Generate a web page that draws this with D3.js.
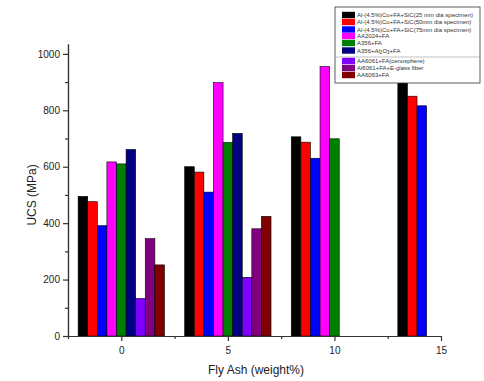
<!DOCTYPE html>
<html>
<head>
<meta charset="utf-8">
<script src="https://cdn.jsdelivr.net/npm/d3@7"></script>
<style>
body { margin: 0; background: #fff; }
svg { font-family: "Liberation Sans", Arial, sans-serif; }
</style>
</head>
<body>
<script>
// fly ash content (weight%) - the group positions
var flyAsh = [0, 5, 10, 15];

var seriesNames = [
  "Al-(4.5%)Cu+FA+SiC(25 mm dia specimen)",
  "Al-(4.5%)Cu+FA+SiC(50mm dia specimen)",
  "Al-(4.5%)Cu+FA+SiC(75mm dia specimen)",
  "AA2024+FA",
  "A356+FA",
  "A356+Al2O3+FA",
  "AA6061+FA(cenosphere)",
  "Al6061+FA+E-glass fiber",
  "AA6063+FA"
];
var seriesColors = ["#000000", "#ff0000", "#0000ff", "#ff00ff", "#008000",
                    "#000080", "#8000ff", "#800080", "#800000"];

// UCS values per series, one per fly ash level (null = no bar)
var ucs25 = [495, 600, 706, 900];
var ucs50 = [476, 581, 687, 850];
var ucs75 = [391, 510, 630, 816];
var aa2024 = [617, 898, 955, null];
var a356 = [610, 686, 699, null];
var a356Al2O3 = [661, 718, null, null];
var aa6061Ceno = [133, 208, null, null];
var al6061Glass = [345, 380, null, null];
var aa6063 = [252, 424, null, null];
var seriesValues = [ucs25, ucs50, ucs75, aa2024, a356, a356Al2O3, aa6061Ceno, al6061Glass, aa6063];

var yTicks = [0, 200, 400, 600, 800, 1000];
var xTicks = [0, 5, 10, 15];

var W = 484, H = 381;
var margin = {left: 68, right: 43, top: 44, bottom: 45};

var svg = d3.select("body").append("svg")
  .attr("width", W).attr("height", H);

var x = d3.scaleLinear().domain([-2.5, 15]).range([margin.left, W - margin.right]);
var y = d3.scaleLinear().domain([0, 1035]).range([H - margin.bottom, margin.top]);

var barW = 0.45; // in x units
var nSeries = seriesNames.length;

// bars
seriesValues.forEach(function(vals, s){
  svg.append("g").selectAll("rect")
    .data(flyAsh.map(function(f, i){ return {f: f, v: vals[i]}; }).filter(function(d){ return d.v != null; }))
    .enter().append("rect")
    .attr("x", function(d){ return x(d.f + (s - nSeries / 2) * barW); })
    .attr("width", x(barW) - x(0))
    .attr("y", function(d){ return y(d.v); })
    .attr("height", function(d){ return y(0) - y(d.v); })
    .attr("fill", seriesColors[s])
    .attr("stroke", "#000")
    .attr("stroke-width", 0.6);
});

// y axis
svg.append("g").attr("transform", "translate(" + margin.left + ",0)")
  .call(d3.axisLeft(y).tickValues(yTicks).tickFormat(d3.format("d")).tickSize(5).tickPadding(3).tickSizeOuter(0));
svg.append("g").attr("transform", "translate(" + margin.left + ",0)")
  .call(d3.axisLeft(y).tickValues(d3.range(100, 1000, 200)).tickSize(3).tickFormat("").tickSizeOuter(0));

// x axis
svg.append("g").attr("transform", "translate(0," + y(0) + ")")
  .call(d3.axisBottom(x).tickValues(xTicks).tickSize(5).tickPadding(6).tickSizeOuter(0));
svg.append("g").attr("transform", "translate(0," + y(0) + ")")
  .call(d3.axisBottom(x).tickValues([-2.5, 2.5, 7.5, 12.5]).tickSize(3).tickFormat("").tickSizeOuter(0));

svg.selectAll(".domain, .tick line").attr("stroke", "#333").attr("stroke-width", 1.2);
svg.selectAll(".tick text").attr("font-size", 10).attr("fill", "#222")
  .attr("font-family", "Liberation Sans, Arial, sans-serif");

// axis titles
svg.append("text")
  .attr("transform", "translate(36," + (y(500)) + ") rotate(-90)")
  .attr("text-anchor", "middle")
  .attr("font-size", 12).attr("fill", "#222")
  .text("UCS (MPa)");
svg.append("text")
  .attr("x", 256).attr("y", 374)
  .attr("text-anchor", "middle")
  .attr("font-size", 12).attr("fill", "#222")
  .text("Fly Ash (weight%)");

// legend
var lg = svg.append("g").attr("transform", "translate(335,7)");
lg.append("rect").attr("width", 145).attr("height", 76)
  .attr("fill", "#fff").attr("stroke", "#333").attr("stroke-width", 0.8);
lg.append("line").attr("x1", 0).attr("x2", 145).attr("y1", 50).attr("y2", 50)
  .attr("stroke", "#999").attr("stroke-width", 0.6);

var rowY = [8, 15, 22.5, 29, 36, 43.5, 54, 61, 68];
seriesNames.forEach(function(name, i){
  var row = lg.append("g").attr("transform", "translate(0," + rowY[i] + ")");
  row.append("rect").attr("x", 7).attr("y", -3.2).attr("width", 13).attr("height", 6.4)
    .attr("fill", seriesColors[i]);
  var t = row.append("text").attr("x", 22).attr("y", 2.2)
    .attr("font-size", 6).attr("fill", "#333");
  if (name === "A356+Al2O3+FA") {
    t.append("tspan").text("A356+Al");
    t.append("tspan").attr("font-size", 4.5).attr("dy", 1.5).text("2");
    t.append("tspan").attr("dy", -1.5).text("O");
    t.append("tspan").attr("font-size", 4.5).attr("dy", 1.5).text("3");
    t.append("tspan").attr("dy", -1.5).text("+FA");
  } else {
    t.text(name);
  }
});
</script>
</body>
</html>
